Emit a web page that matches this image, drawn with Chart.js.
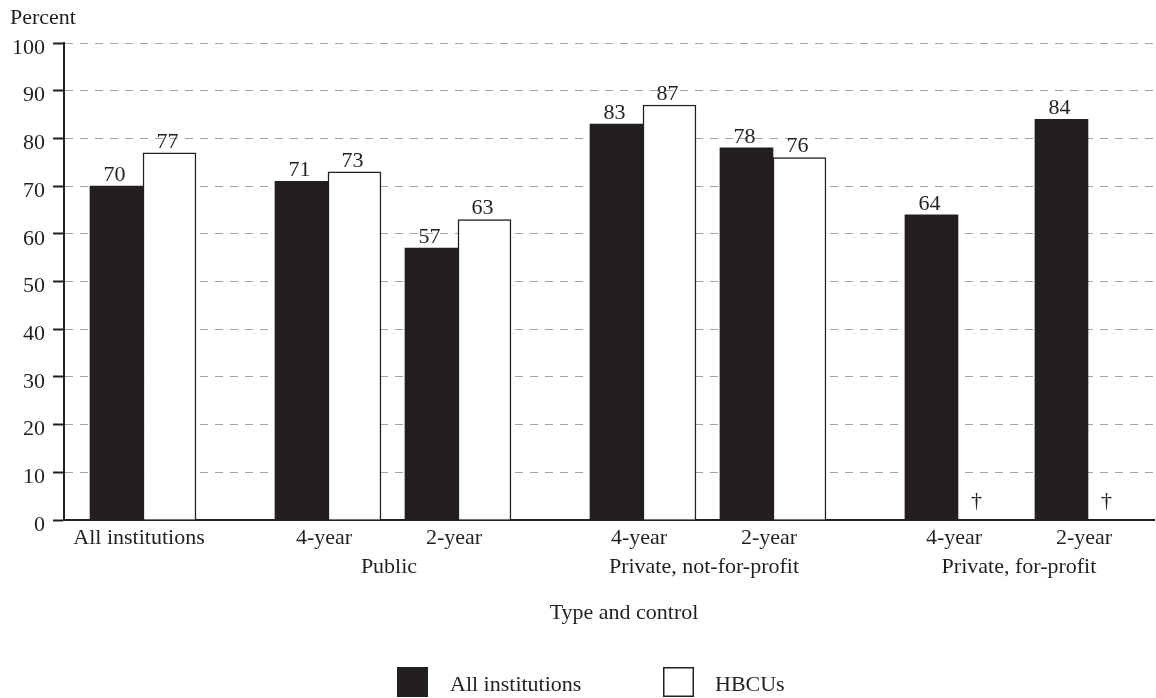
<!DOCTYPE html>
<html>
<head>
<meta charset="utf-8">
<script src="https://cdn.jsdelivr.net/npm/chart.js@4/dist/chart.umd.min.js"></script>
<style>
  html, body { margin: 0; padding: 0; background: #ffffff; }
  #wrap { position: relative; width: 1156px; height: 698px; }
</style>
</head>
<body>
<div id="wrap"><canvas id="c"></canvas></div>
<script>
// ---- data ----
const categories = ["All institutions", "4-year", "2-year", "4-year", "2-year", "4-year", "2-year"];
const groups = ["", "Public", "Public", "Private, not-for-profit", "Private, not-for-profit", "Private, for-profit", "Private, for-profit"];
const allInstitutions = [70, 71, 57, 83, 78, 64, 84];
const hbcus = [77, 73, 63, 87, 76, null, null];
const seriesNames = ["All institutions", "HBCUs"];
const yTicks = [0, 10, 20, 30, 40, 50, 60, 70, 80, 90, 100];
const yTitle = "Percent";
const xTitle = "Type and control";
const notApplicable = "\u2020";

// ---- styling / layout ----
const INK = "#231f20";
const FONT_FAMILY = "'Liberation Serif', 'Times New Roman', serif";
const FONT_SIZE = 22;
const FONT = FONT_SIZE + "px " + FONT_FAMILY;
const GROUP_GAP = 0.423;   // extra spacing between groups, in category units

// category positions along a linear index axis
const groupOrder = [];
groups.forEach(g => { if (!groupOrder.includes(g)) groupOrder.push(g); });
const xPos = categories.map((c, i) => i + groupOrder.indexOf(groups[i]) * GROUP_GAP);
// group label positions (centre of their categories)
const groupLabelPos = [];
groupOrder.forEach(g => {
  if (!g) return;
  const idx = groups.map((gg, i) => gg === g ? i : -1).filter(i => i >= 0);
  const mid = (xPos[idx[0]] + xPos[idx[idx.length - 1]]) / 2;
  groupLabelPos.push({ value: mid, label: ["", g] });
});
const tickLabelMap = new Map();
xPos.forEach((p, i) => tickLabelMap.set(p.toFixed(4), categories[i]));
groupLabelPos.forEach(o => tickLabelMap.set(o.value.toFixed(4), o.label));

const annotate = {
  id: 'annotate',
  afterDatasetsDraw(chart) {
    const ctx = chart.ctx;
    const y0 = chart.scales.y.getPixelForValue(0);
    ctx.save();
    ctx.font = FONT;
    ctx.fillStyle = INK;
    ctx.textAlign = 'center';
    ctx.textBaseline = 'alphabetic';
    chart.data.datasets.forEach((ds, di) => {
      const meta = chart.getDatasetMeta(di);
      meta.data.forEach((bar, i) => {
        const v = ds.data[i].y;
        if (v === null || v === undefined) {
          ctx.fillText(notApplicable, bar.x - 8, y0 - 13);
        } else {
          ctx.fillText(String(v), bar.x - 2, bar.y - 5);
        }
      });
    });
    ctx.restore();
  },
  afterDraw(chart) {
    const ctx = chart.ctx;
    ctx.save();
    ctx.font = FONT;
    ctx.fillStyle = INK;
    ctx.textBaseline = 'alphabetic';
    ctx.textAlign = 'left';
    ctx.fillText(yTitle, 10, 24);
    ctx.textAlign = 'center';
    ctx.fillText(xTitle, 624, 619);
    // legend
    const legendItems = [
      { box: 397, text: 450 },
      { box: 663, text: 715 }
    ];
    chart.data.datasets.forEach((ds, i) => {
      const it = legendItems[i];
      ctx.fillStyle = ds.backgroundColor;
      ctx.fillRect(it.box, 667, 31, 30);
      if (ds.borderWidth) {
        ctx.strokeStyle = INK;
        ctx.lineWidth = 1.5;
        ctx.strokeRect(it.box + 0.75, 667.75, 29.5, 28.5);
      }
      ctx.fillStyle = INK;
      ctx.textAlign = 'left';
      ctx.fillText(ds.label, it.text, 691);
    });
    ctx.restore();
  }
};

new Chart(document.getElementById('c'), {
  type: 'bar',
  data: {
    datasets: [
      {
        label: seriesNames[0],
        data: allInstitutions.map((v, i) => ({ x: xPos[i], y: v })),
        backgroundColor: INK,
        borderWidth: 0
      },
      {
        label: seriesNames[1],
        data: hbcus.map((v, i) => ({ x: xPos[i], y: v })),
        backgroundColor: '#ffffff',
        borderColor: INK,
        borderWidth: 1.5
      }
    ]
  },
  options: {
    responsive: true,
    maintainAspectRatio: false,
    animation: false,
    barThickness: 53,
    layout: { padding: { top: 43, right: 2, left: 0, bottom: 0 } },
    plugins: {
      legend: { display: false },
      title: { display: false },
      tooltip: { enabled: false }
    },
    scales: {
      x: {
        type: 'linear',
        offset: false,
        bounds: 'data',
        min: -79 / 130,
        max: 1011 / 130,
        grid: { display: false, drawTicks: false, offset: false },
        border: { display: true, color: INK, width: 2 },
        afterBuildTicks(scale) {
          const vals = xPos.concat(groupLabelPos.map(o => o.value)).sort((a, b) => a - b);
          scale.ticks = vals.map(v => ({ value: v }));
        },
        afterFit(scale) { scale.height = 178; },
        ticks: {
          autoSkip: false,
          maxRotation: 0,
          minRotation: 0,
          padding: 4,
          labelOffset: -4,
          color: INK,
          font: { family: FONT_FAMILY, size: FONT_SIZE, lineHeight: 29 / 22 },
          callback(value) {
            const l = tickLabelMap.get(Number(value).toFixed(4));
            return l === undefined ? '' : l;
          }
        }
      },
      y: {
        min: 0,
        max: 100,
        afterBuildTicks(scale) { scale.ticks = yTicks.map(v => ({ value: v })); },
        afterFit(scale) { scale.width = 64; },
        grid: {
          color: (c) => (c.tick && c.tick.value === 0) ? 'rgba(0,0,0,0)' : '#a3a3a3',
          lineWidth: 1,
          tickLength: 11,
          tickColor: INK,
          tickWidth: 2,
          tickBorderDash: [],
          drawTicks: true
        },
        border: { display: true, color: INK, width: 2, dash: [8, 7] },
        ticks: {
          padding: 8,
          labelOffset: 5,
          color: INK,
          font: { family: FONT_FAMILY, size: FONT_SIZE }
        }
      }
    }
  },
  plugins: [annotate]
});
</script>
</body>
</html>
